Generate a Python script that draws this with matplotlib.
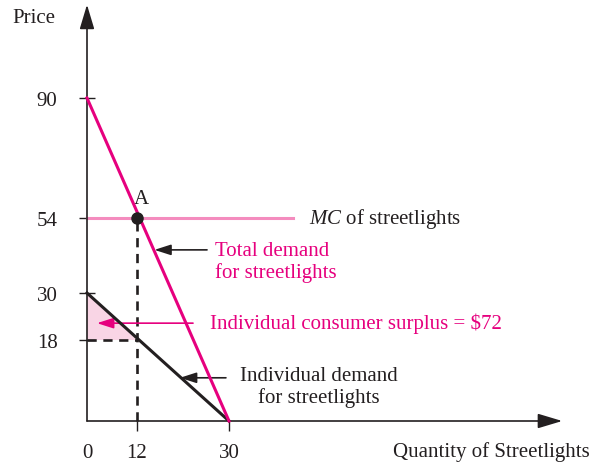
import numpy as np
import matplotlib
matplotlib.use('Agg')
import matplotlib.pyplot as plt

# values
total_demand_q = [0, 30]
total_demand_p = [90, 0]
indiv_demand_q = [0, 30]
indiv_demand_p = [30, 0]
mc_price = 54
mc_q = [0, 42.5]
point_a = (12, 54)
indiv_q = 12
indiv_p = 18
surplus_q = [0, 0, 12]
surplus_p = [30, 18, 18]
xticks = [0, 12, 30]
yticks = [18, 30, 54, 90]

INK = '#231F20'
MAGENTA = '#E6007E'
MC_PINK = '#F48CBE'
FILL_PINK = '#F9D5E5'
FS = 15

plt.rcParams['font.family'] = ['Liberation Serif', 'DejaVu Serif']
plt.rcParams['mathtext.fontset'] = 'custom'
plt.rcParams['mathtext.rm'] = 'Liberation Serif'
plt.rcParams['mathtext.it'] = 'Liberation Serif:italic'

# the textbook diagram is not drawn to scale: piecewise-linear axis scales
xd = np.array([-50, 0, 12, 30, 150])
xp = np.array([-121.3, 87, 137, 229, 842.3])
yd = np.array([-50, 0, 18, 30, 54, 90, 200])
yp = np.array([-183, 42, 123, 170, 245, 365, 731.7])

def fx(v):
    return np.interp(v, xd, xp)

def ix(v):
    return np.interp(v, xp, xd)

def fy(v):
    return np.interp(v, yd, yp)

def iy(v):
    return np.interp(v, yp, yd)

fig = plt.figure(figsize=(5.96, 4.64), dpi=100)
ax = fig.add_axes([0, 0, 1, 1])
ax.set_xscale('function', functions=(fx, ix))
ax.set_yscale('function', functions=(fy, iy))
ax.set_xlim(ix(0), ix(596))
ax.set_ylim(iy(0), iy(464))

for s in ['top', 'right']:
    ax.spines[s].set_visible(False)
ax.spines['left'].set_position(('data', 0))
ax.spines['bottom'].set_position(('data', 0))
ax.spines['left'].set_color('none')
ax.spines['bottom'].set_color('none')

# axes with arrow heads
axis_arrow = dict(arrowstyle='-|>,head_length=1.5,head_width=0.45',
                  color=INK, lw=1.2, shrinkA=0, shrinkB=0)
ax.annotate('', xy=(0, 118), xytext=(0, 0), arrowprops=axis_arrow)
ax.annotate('', xy=(95.2, 0), xytext=(0, 0), arrowprops=axis_arrow)

ax.set_xticks(xticks)
ax.set_xticklabels([str(v) for v in xticks])
ax.set_yticks(yticks)
ax.set_yticklabels([str(v) for v in yticks])
ax.tick_params(axis='y', direction='inout', length=11.5, width=1.0,
               pad=15.5, labelsize=FS, color=INK, labelcolor=INK)
ax.tick_params(axis='x', direction='out', length=7.2, width=1.0,
               pad=8.5, labelsize=FS, color=INK, labelcolor=INK)
ax.xaxis.get_major_ticks()[0].tick1line.set_visible(False)

# consumer surplus triangle
ax.fill(surplus_q, surplus_p, color=FILL_PINK, lw=0, zorder=1)

# MC line
ax.plot(mc_q, [mc_price, mc_price], color=MC_PINK, lw=2.2, zorder=2)

# dashed guides
ax.plot([indiv_q, indiv_q], [0, point_a[1]], color=INK, lw=1.9,
        ls=(0, (3.5, 2.5)), zorder=3)
ax.plot([0, indiv_q], [indiv_p, indiv_p], color=INK, lw=1.9,
        ls=(0, (3.5, 2.5)), zorder=3)

# demand curves
ax.plot(indiv_demand_q, indiv_demand_p, color=INK, lw=2.2, zorder=4)
ax.plot(total_demand_q, total_demand_p, color=MAGENTA, lw=2.2, zorder=4)

ax.plot([point_a[0]], [point_a[1]], 'o', color=INK, ms=8, zorder=5)
ax.text(12.8, 60, 'A', fontsize=FS, ha='center', va='center', color=INK)

# labels
ax.text(-18, 114, 'Price', fontsize=FS, ha='left', va='center', color=INK)
ax.text(100.6, -6.6, 'Quantity of Streetlights', fontsize=FS, ha='right',
        va='center', color=INK)
ax.text(45.7, 54, r'$MC$ of streetlights', fontsize=FS, ha='left',
        va='center', color=INK)

label_arrow = '-|>,head_length=1.0,head_width=0.32'
ax.annotate('', xy=(15.4, 43.8), xytext=(25.7, 43.8),
            arrowprops=dict(arrowstyle=label_arrow, color=INK, lw=1.2,
                            shrinkA=0, shrinkB=0))
ax.text(27.3, 40.2, 'Total demand\nfor streetlights', fontsize=FS, ha='left',
        va='center', color=MAGENTA, linespacing=1.15)

ax.annotate('', xy=(2.4, 22.3), xytext=(22.96, 22.3),
            arrowprops=dict(arrowstyle=label_arrow, color=MAGENTA, lw=1.2,
                            shrinkA=0, shrinkB=0))
ax.text(26.3, 22.3, 'Individual consumer surplus = $72', fontsize=FS,
        ha='left', va='center', color=MAGENTA)

ax.annotate('', xy=(20.4, 9.6), xytext=(29.4, 9.6),
            arrowprops=dict(arrowstyle=label_arrow, color=INK, lw=1.2,
                            shrinkA=0, shrinkB=0))
ax.text(47.6, 7.6, 'Individual demand\nfor streetlights', fontsize=FS,
        ha='center', va='center', multialignment='center',
        color=INK, linespacing=1.15)

fig.savefig('out.png', dpi=100)
